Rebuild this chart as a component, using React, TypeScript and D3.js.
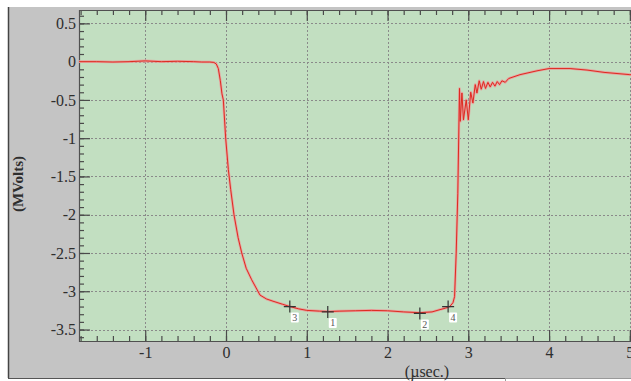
import * as d3 from 'd3';
import { useEffect, useRef } from 'react';

// trace: time (µsec) and voltage (MVolts)
const times = [
  -1.82, -1.6, -1.4, -1.2, -1.0, -0.8, -0.6, -0.4, -0.3, -0.2, -0.15, -0.12, -0.095, -0.07,
  -0.05, -0.033, -0.004, 0.029, 0.058, 0.099, 0.15, 0.195, 0.25, 0.318, 0.421, 0.5, 0.582,
  0.7, 0.79, 0.9, 1.0, 1.16, 1.27, 1.4, 1.6, 1.8, 2.0, 2.2, 2.4, 2.55, 2.65, 2.72, 2.77,
  2.81, 2.83, 2.85, 2.87, 2.891, 2.9, 2.921, 2.94, 2.974, 3.0, 3.03, 3.057, 3.086, 3.107,
  3.135, 3.16, 3.188, 3.213, 3.243, 3.271, 3.3, 3.33, 3.358, 3.387, 3.416, 3.457, 3.5,
  3.64, 3.85, 4.0, 4.26, 4.47, 4.68, 5.0, 5.2,
];
const volts = [
  0.0, 0.0, -0.005, 0.0, 0.01, 0.0, 0.005, 0.0, -0.005, -0.005, -0.01, -0.03, -0.09, -0.25,
  -0.42, -0.5, -1.0, -1.41, -1.67, -2.0, -2.3, -2.5, -2.7, -2.85, -3.05, -3.1, -3.13,
  -3.17, -3.2, -3.23, -3.25, -3.26, -3.265, -3.26, -3.255, -3.25, -3.255, -3.27, -3.28,
  -3.27, -3.24, -3.22, -3.2, -3.15, -3.07, -2.5, -1.72, -0.35, -0.78, -0.41, -0.76, -0.5,
  -0.76, -0.4, -0.54, -0.3, -0.41, -0.25, -0.36, -0.26, -0.35, -0.27, -0.33, -0.27, -0.32,
  -0.26, -0.3, -0.25, -0.27, -0.22, -0.17, -0.12, -0.09, -0.09, -0.11, -0.14, -0.17, -0.18,
];

// cursor markers
const markerIds = ['3', '1', '2', '4'];
const markerTimes = [0.79, 1.26, 2.4, 2.75];
const markerVolts = [-3.2, -3.27, -3.29, -3.2];

const xTicks = [-1, 0, 1, 2, 3, 4, 5];
const yTicks = [0.5, 0, -0.5, -1, -1.5, -2, -2.5, -3, -3.5];

export default function App() {
  const svgRef = useRef<SVGSVGElement | null>(null);

  useEffect(() => {
    const svg = d3.select(svgRef.current);
    svg.selectAll('*').remove();

    const width = 631;
    const height = 381;
    const left = 79;
    const top = 10;
    const bottom = 341;
    const right = 646;
    const font = 'Liberation Serif, DejaVu Serif, serif';

    const x = d3.scaleLinear([-1.82, 5.2], [left, right]);
    const y = d3.scaleLinear([-3.65, 0.675], [bottom, top]);

    svg.attr('width', width).attr('height', height).attr('viewBox', [0, 0, width, height])
      .attr('font-family', font);

    // grey frame around the plot
    svg.append('rect').attr('width', width).attr('height', height).attr('fill', '#fff');
    svg.append('rect')
      .attr('x', 8).attr('y', 7).attr('width', width).attr('height', 371)
      .attr('fill', '#c4c4c4');
    svg.append('line')
      .attr('x1', 8.5).attr('x2', 8.5).attr('y1', 7).attr('y2', 378)
      .attr('stroke', '#444').attr('stroke-width', 1.5);
    svg.append('line')
      .attr('x1', 8).attr('x2', width).attr('y1', 378.5).attr('y2', 378.5)
      .attr('stroke', '#555');
    svg.append('rect')
      .attr('x', 505.5).attr('y', 378.5).attr('width', 140).attr('height', 10)
      .attr('fill', '#fff').attr('stroke', '#999');

    // plot area
    svg.append('rect')
      .attr('x', left).attr('y', top).attr('width', right - left).attr('height', bottom - top)
      .attr('fill', '#c2dfc1');

    // dotted grid
    svg.append('g')
      .selectAll('line')
      .data(yTicks)
      .join('line')
      .attr('x1', left).attr('x2', right)
      .attr('y1', d => Math.round(y(d)) + 0.5).attr('y2', d => Math.round(y(d)) + 0.5)
      .attr('stroke', '#8a8a8a').attr('stroke-dasharray', '2,2');
    svg.append('g')
      .selectAll('line')
      .data(xTicks)
      .join('line')
      .attr('x1', d => Math.round(x(d)) + 0.5).attr('x2', d => Math.round(x(d)) + 0.5)
      .attr('y1', top).attr('y2', bottom)
      .attr('stroke', '#8a8a8a').attr('stroke-dasharray', '2,2');

    const tickColor = '#4a4a4a';
    const styleAxis = (g: any) => {
      g.attr('font-family', font).attr('font-size', 16);
      g.select('.domain').remove();
      g.selectAll('line').attr('stroke', tickColor).attr('stroke-width', 1.2);
      g.selectAll('text').attr('fill', '#2e2e2e');
    };

    const xMinor = d3.range(-1.8, 5.21, 0.2).map(d => Math.round(d * 10) / 10);
    const yMinor = d3.range(-3.6, 0.61, 0.1).map(d => Math.round(d * 10) / 10);

    // y axis: ticks point into the plot
    svg.append('g')
      .attr('transform', `translate(${left},0)`)
      .call(d3.axisLeft(y).tickValues(yMinor).tickSizeInner(-5).tickSizeOuter(0).tickFormat(() => ''))
      .call(styleAxis);
    svg.append('g')
      .attr('transform', `translate(${left},0)`)
      .call(d3.axisLeft(y).tickValues(yTicks).tickSizeInner(-11).tickSizeOuter(0).tickPadding(3)
        .tickFormat(d => String(d)))
      .call(styleAxis);

    // x axis at the bottom
    svg.append('g')
      .attr('transform', `translate(0,${bottom})`)
      .call(d3.axisBottom(x).tickValues(xMinor).tickSizeInner(-5).tickSizeOuter(0).tickFormat(() => ''))
      .call(styleAxis);
    svg.append('g')
      .attr('transform', `translate(0,${bottom})`)
      .call(d3.axisBottom(x).tickValues(xTicks).tickSizeInner(-11).tickSizeOuter(0).tickPadding(6)
        .tickFormat(d => String(d)))
      .call(styleAxis);

    // ticks along the top edge
    svg.append('g')
      .attr('transform', `translate(0,${top})`)
      .call(d3.axisTop(x).tickValues(xMinor).tickSizeInner(-5).tickSizeOuter(0).tickFormat(() => ''))
      .call(styleAxis);
    svg.append('g')
      .attr('transform', `translate(0,${top})`)
      .call(d3.axisTop(x).tickValues(xTicks).tickSizeInner(-11).tickSizeOuter(0).tickFormat(() => ''))
      .call(styleAxis);

    // plot border
    svg.append('path')
      .attr('d', `M${right},${top + 0.5}H${left + 0.5}V${bottom + 0.5}H${right}`)
      .attr('fill', 'none').attr('stroke', '#505050').attr('stroke-width', 1.2);

    // trace
    const points = times.map((t, i) => [t, volts[i]] as [number, number]);
    const line = d3.line<[number, number]>().x(d => x(d[0])).y(d => y(d[1]));
    const clip = svg.append('clipPath').attr('id', 'plot-clip');
    clip.append('rect').attr('x', left).attr('y', top).attr('width', right - left).attr('height', bottom - top);
    const trace = svg.append('g').attr('clip-path', 'url(#plot-clip)');
    trace.append('path')
      .attr('d', line(points))
      .attr('fill', 'none').attr('stroke', '#e6a39f').attr('stroke-width', 2.6)
      .attr('stroke-linejoin', 'round');
    trace.append('path')
      .attr('d', line(points))
      .attr('fill', 'none').attr('stroke', '#de2a20').attr('stroke-width', 1)
      .attr('stroke-linejoin', 'round');

    // cursor markers with their little white labels
    const markers = svg.append('g');
    markerIds.forEach((id, i) => {
      const mx = x(markerTimes[i]);
      const my = y(markerVolts[i]);
      markers.append('path')
        .attr('d', `M${mx - 6},${my}H${mx + 6}M${mx},${my - 6}V${my + 6}`)
        .attr('stroke', '#333').attr('stroke-width', 1.2);
      markers.append('rect')
        .attr('x', mx + 1).attr('y', my + 6).attr('width', 8).attr('height', 10)
        .attr('fill', '#fff').attr('rx', 1);
      markers.append('text')
        .attr('x', mx + 5).attr('y', my + 14.5)
        .attr('text-anchor', 'middle')
        .attr('fill', '#555')
        .attr('font-size', 10)
        .text(id);
    });

    // axis titles
    svg.append('text')
      .attr('x', 427).attr('y', 377)
      .attr('text-anchor', 'middle')
      .attr('fill', '#2e2e2e')
      .attr('font-size', 16)
      .text('(µsec.)');
    svg.append('text')
      .attr('transform', 'translate(23,184) rotate(-90)')
      .attr('text-anchor', 'middle')
      .attr('fill', '#2e2e2e')
      .attr('font-size', 15)
      .attr('font-weight', 'bold')
      .text('(MVolts)');
  }, []);

  return <svg ref={svgRef} style={{ position: 'absolute', left: 0, top: 0, display: 'block' }} />;
}
